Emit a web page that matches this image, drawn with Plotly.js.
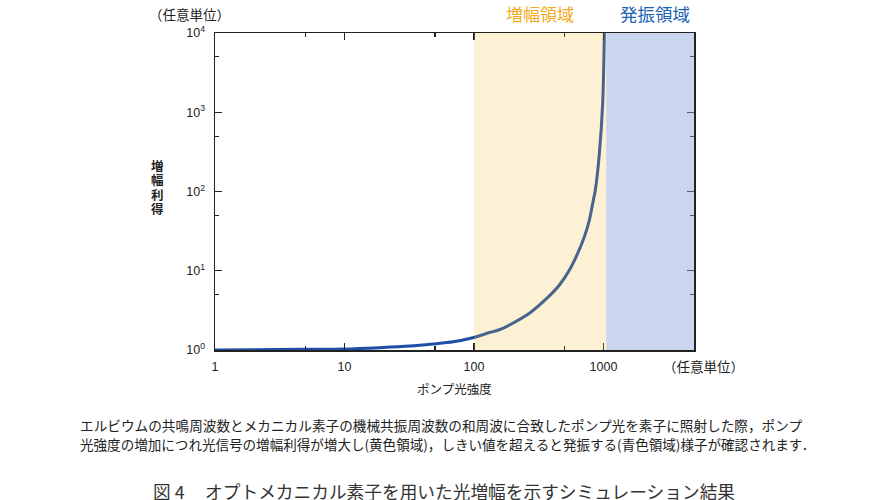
<!DOCTYPE html>
<html>
<head>
<meta charset="utf-8">
<script src="https://cdn.plot.ly/plotly-3.0.1.min.js"></script>
<style>
  html, body { margin: 0; padding: 0; background: #fff; }
  #chart { width: 890px; height: 500px; }
</style>
</head>
<body>
<div id="chart"></div>
<script>
// Pump light intensity (arbitrary units) and resulting amplification gain
const pump = [1, 2, 4.5, 10, 18.7, 32, 48, 69, 98, 132, 157, 188, 268, 361, 457, 546, 632, 713, 779, 826, 866, 930, 986, 1016];
const gain = [1.0, 1.01, 1.02, 1.03, 1.07, 1.12, 1.19, 1.27, 1.43, 1.66, 1.80, 2.07, 2.91, 4.41, 6.62, 10.2, 16.6, 27.0, 43.8, 71.2, 105, 307, 1303, 10000];

// Region boundaries on the pump axis
const ampRegion = [100, 1050];   // 増幅領域
const oscRegion = [1050, 5000];  // 発振領域

// Axis ticks
const xTickVals = [1, 10, 100, 1000];
const xTickText = ['1', '10', '100', '1000'];
const xMinorVals = [5, 50, 500];
const yTickVals = [1, 10, 100, 1000, 10000];
const yTickText = ['10<sup>0</sup>', '10<sup>1</sup>', '10<sup>2</sup>', '10<sup>3</sup>', '10<sup>4</sup>'];
const yMinorVals = [5, 50, 500, 5000];

// Vertical y-axis title, one character per line
const yTitleChars = ['増', '幅', '利', '得'];

const latin = 'Liberation Sans, Arial, Noto Sans CJK JP, sans-serif';
const jp = 'Noto Sans CJK JP, sans-serif';

const trace = {
  x: pump, y: gain, type: 'scatter', mode: 'lines',
  line: { color: '#1f4ea6', width: 3, shape: 'spline', smoothing: 0.8 },
  hoverinfo: 'skip'
};

const axisCommon = {
  type: 'log', showgrid: false, zeroline: false,
  showline: true, linecolor: '#222', linewidth: 1.5, mirror: 'ticks',
  ticks: 'inside', ticklen: 7, tickwidth: 1.2, tickcolor: '#222',
  tickmode: 'array',
  tickfont: { family: latin, size: 12.5, color: '#222' }
};

const annotations = [
  { text: '（任意単位）', xref: 'paper', yref: 'paper', x: -0.142, y: 1.06, xanchor: 'left', yanchor: 'middle',
    showarrow: false, font: { family: jp, size: 13.5, color: '#222' } },
  { text: '増幅領域', xref: 'paper', yref: 'paper', x: 0.6785, y: 1.06, xanchor: 'center', yanchor: 'middle',
    showarrow: false, font: { family: jp, size: 17, color: '#f5aa22' } },
  { text: '発振領域', xref: 'paper', yref: 'paper', x: 0.9186, y: 1.06, xanchor: 'center', yanchor: 'middle',
    showarrow: false, font: { family: jp, size: 17.5, color: '#1c63b8' } },
  { text: '（任意単位）', xref: 'paper', yref: 'paper', x: 0.932, y: -0.0505, xanchor: 'left', yanchor: 'middle',
    showarrow: false, font: { family: jp, size: 13.5, color: '#222' } },
  { text: 'ポンプ光強度', xref: 'paper', yref: 'paper', x: 0.5, y: -0.123, xanchor: 'center', yanchor: 'middle',
    showarrow: false, font: { family: jp, size: 12.5, color: '#222' } },
  { text: 'エルビウムの共鳴周波数とメカニカル素子の機械共振周波数の和周波に合致したポンプ光を素子に照射した際，ポンプ',
    xref: 'paper', yref: 'paper', x: -0.286, y: -0.2366, xanchor: 'left', yanchor: 'middle',
    showarrow: false, font: { family: jp, size: 13.65, color: '#222' } },
  { text: '光強度の増加につれ光信号の増幅利得が増大し(黄色領域)，しきい値を超えると発振する(青色領域)様子が確認されます．',
    xref: 'paper', yref: 'paper', x: -0.286, y: -0.2965, xanchor: 'left', yanchor: 'middle',
    showarrow: false, font: { family: jp, size: 13.55, color: '#222' } },
  { text: '図 4\u3000\u2006オプトメカニカル素子を用いた光増幅を示すシミュレーション結果',
    xref: 'paper', yref: 'paper', x: -0.1335, y: -0.4448, xanchor: 'left', yanchor: 'middle',
    showarrow: false, font: { family: jp, size: 17.7, color: '#333' } }
];

// Stack the y title characters 14.6 px apart, centred beside the axis
const plotH = 500 - 33 - 150;
yTitleChars.forEach((ch, i) => {
  const py = 165 + i * 14.6;
  annotations.push({
    text: '<b>' + ch + '</b>', xref: 'paper', yref: 'paper',
    x: -0.121, y: (350 - py) / plotH, xanchor: 'center', yanchor: 'middle',
    showarrow: false, font: { family: jp, size: 12.5, color: '#222' }
  });
});

const layout = {
  width: 890, height: 500,
  margin: { l: 215, r: 196, t: 33, b: 150 },
  paper_bgcolor: '#fff', plot_bgcolor: '#fff',
  showlegend: false,
  xaxis: Object.assign({}, axisCommon, {
    range: [0, Math.log10(5000)],
    tickvals: xTickVals, ticktext: xTickText,
    minor: { tickmode: 'array', tickvals: xMinorVals, ticks: 'inside', ticklen: 4, tickwidth: 1.2, tickcolor: '#222' },
    ticklabelstandoff: 4
  }),
  yaxis: Object.assign({}, axisCommon, {
    range: [0, 4],
    tickvals: yTickVals, ticktext: yTickText,
    minor: { tickmode: 'array', tickvals: yMinorVals, ticks: 'inside', ticklen: 4, tickwidth: 1.2, tickcolor: '#222' },
    ticklabelstandoff: 6
  }),
  // Translucent region bands laid over the curve and the axes
  shapes: [
    { type: 'rect', xref: 'x', yref: 'paper', x0: ampRegion[0], x1: ampRegion[1], y0: 0, y1: 1,
      fillcolor: '#f0b928', opacity: 0.2, line: { width: 0 }, layer: 'above' },
    { type: 'rect', xref: 'x', yref: 'paper', x0: oscRegion[0], x1: oscRegion[1], y0: 0, y1: 1,
      fillcolor: '#8aa5d6', opacity: 0.45, line: { width: 0 }, layer: 'above' }
  ],
  annotations: annotations
};

Plotly.newPlot('chart', [trace], layout, { displayModeBar: false, staticPlot: true });
</script>
</body>
</html>
